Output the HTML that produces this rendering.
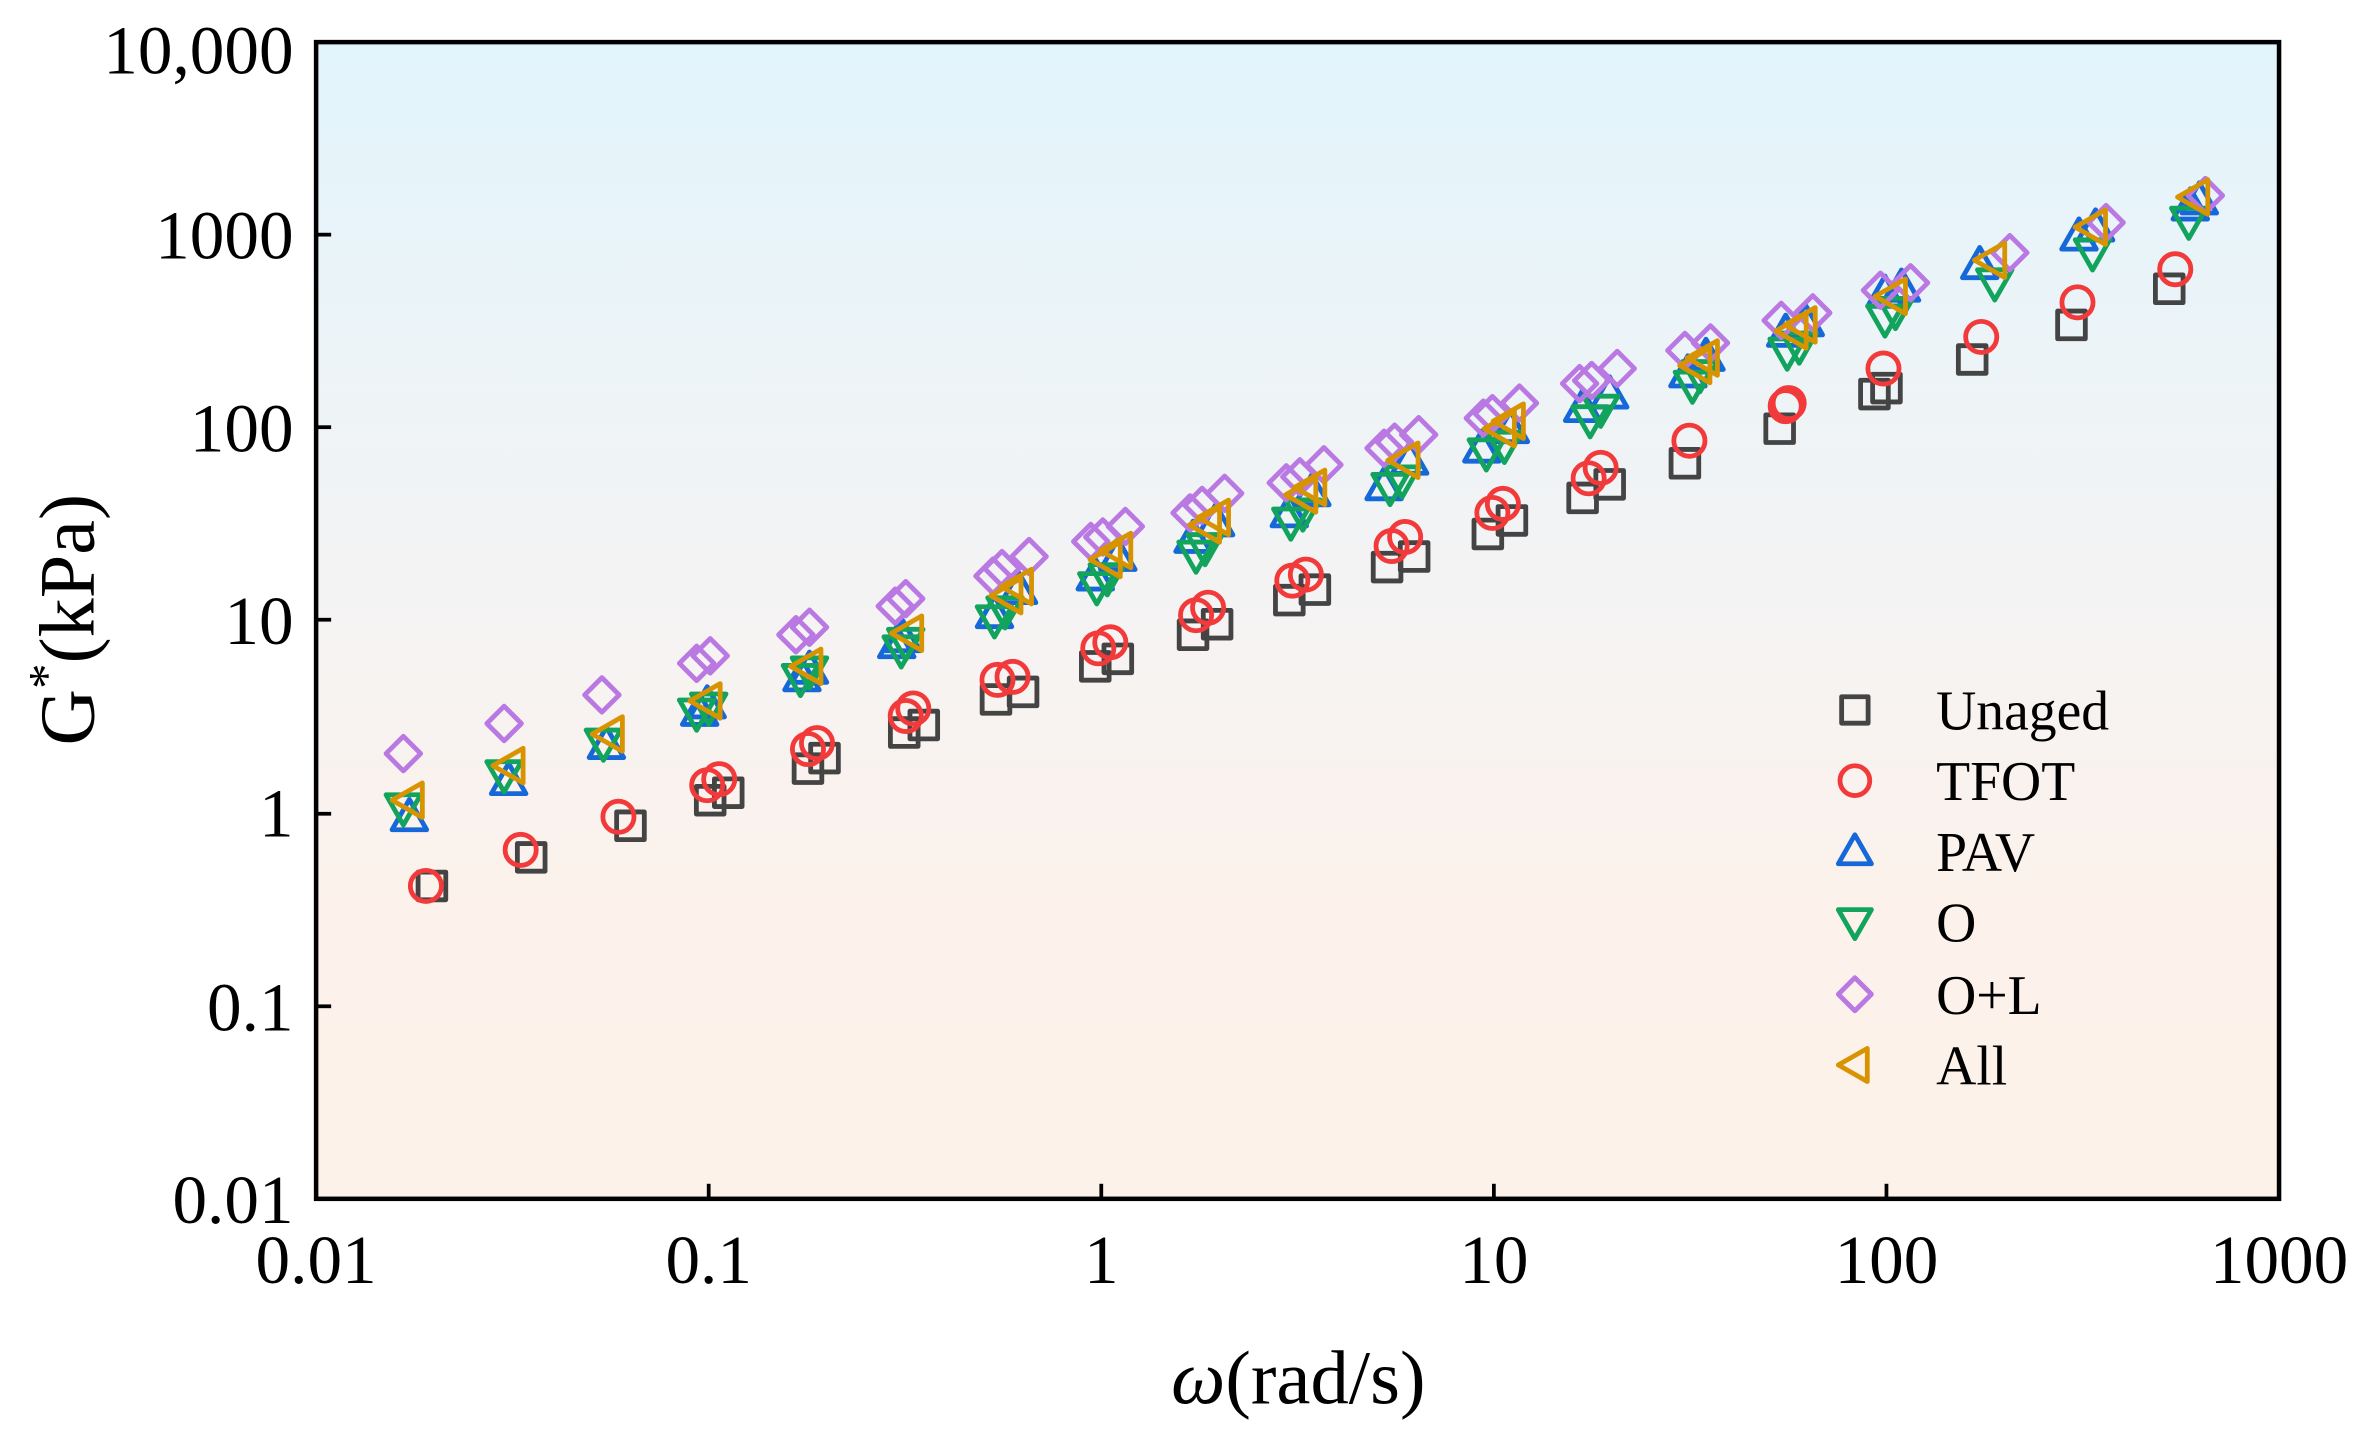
<!DOCTYPE html>
<html><head><meta charset="utf-8"><style>
html,body{margin:0;padding:0;background:#fff;}
svg{display:block;}
text{font-family:"Liberation Serif",serif;fill:#000;}
</style></head><body>
<svg id="s" width="2359" height="1441" viewBox="0 0 1568 958" xmlns="http://www.w3.org/2000/svg">
<defs><linearGradient id="bg" x1="0" y1="0" x2="0" y2="1">
<stop offset="0" stop-color="#e2f4fc"/><stop offset="0.5" stop-color="#f5f3f3"/><stop offset="0.75" stop-color="#fcf2eb"/><stop offset="1" stop-color="#fdf2ea"/></linearGradient></defs>
<rect x="210" y="28" width="1305" height="769" fill="url(#bg)"/>
<g id="pts"></g>
<rect x="210" y="28" width="1305" height="769" fill="none" stroke="#000" stroke-width="3"/>
<g stroke="#000" stroke-width="2.5">
<line x1="210" y1="156" x2="220" y2="156"/><line x1="210" y1="284" x2="220" y2="284"/><line x1="210" y1="412" x2="220" y2="412"/><line x1="210" y1="541" x2="220" y2="541"/><line x1="210" y1="669" x2="220" y2="669"/>
<line x1="471" y1="797" x2="471" y2="787"/><line x1="732" y1="797" x2="732" y2="787"/><line x1="993" y1="797" x2="993" y2="787"/><line x1="1254" y1="797" x2="1254" y2="787"/>
</g>
<g font-size="46" text-anchor="end">
<text x="195" y="49">10,000</text><text x="195" y="172">1000</text><text x="195" y="300">100</text><text x="195" y="428">10</text><text x="195" y="556">1</text><text x="195" y="685">0.1</text><text x="195" y="813">0.01</text>
</g>
<g font-size="46" text-anchor="middle">
<text x="210" y="853">0.01</text><text x="471" y="853">0.1</text><text x="732" y="853">1</text><text x="993" y="853">10</text><text x="1254" y="853">100</text><text x="1515" y="853">1000</text>
</g>
<text x="863" y="933" font-size="51" text-anchor="middle"><tspan font-style="italic">ω</tspan>(rad/s)</text>
<text transform="translate(62,412) rotate(-90)" font-size="52" text-anchor="middle">G<tspan dy="-20" font-size="34">*</tspan><tspan dy="20">(kPa)</tspan></text>
<g font-size="37">
<text x="1287" y="485">Unaged</text><text x="1287" y="532">TFOT</text><text x="1287" y="579">PAV</text><text x="1287" y="626">O</text><text x="1287" y="674">O+L</text><text x="1287" y="721">All</text>
</g>
<g id="leg"></g>
</svg>
<script>
var C={sq:"#444",ci:"#f23a3a",up:"#1668d8",dn:"#12a35c",di:"#b978e2",lt:"#d89400"};
function mk(t,x,y,r){var c=C[t],s;
if(t=="sq")s='<rect x="'+(x-r*0.8)+'" y="'+(y-r*0.8)+'" width="'+(r*1.6)+'" height="'+(r*1.6)+'"';
else if(t=="ci")s='<circle cx="'+x+'" cy="'+y+'" r="'+(r*0.9)+'"';
else{var p;if(t=="up")p=[[x,y-r],[x+r,y+r*0.75],[x-r,y+r*0.75]];
else if(t=="dn")p=[[x,y+r],[x+r,y-r*0.75],[x-r,y-r*0.75]];
else if(t=="di")p=[[x,y-r],[x+r,y],[x,y+r],[x-r,y]];
else p=[[x-r,y],[x+r*0.75,y-r],[x+r*0.75,y+r]];
s='<polygon points="'+p.map(function(a){return a.join(",")}).join(" ")+'"';}
return s+' fill="none" stroke="'+c+'" stroke-width="3.2" stroke-linejoin="round"/>';}
var D={
sq:[[287,589],[353,570],[419,549],[472,532],[484,527],[537,511],[548,504],[601,487],[614,482],[662,465],[680,460],[728,443],[743,438],[793,422],[809,415],[857,399],[874,392],[922,377],[940,370],[989,355],[1005,346],[1052,331],[1070,322],[1120,308],[1183,285],[1246,262],[1254,258],[1311,239],[1377,216],[1442,192]],
ci:[[283,589],[346,565],[411,543],[470,522],[478,518],[537,498],[543,494],[602,476],[607,471],[663,452],[673,450],[730,431],[738,427],[795,409],[803,404],[859,386],[868,382],[925,363],[934,357],[992,341],[999,335],[1056,318],[1064,311],[1123,293],[1187,270],[1189,268],[1252,245],[1317,224],[1381,201],[1446,179]],
up:[[272,543],[338,519],[403,495],[465,473],[470,468],[533,450],[538,445],[596,428],[600,424],[661,408],[677,392],[728,383],[743,370],[793,358],[808,347],[857,341],[872,327],[920,323],[937,306],[985,298],[1004,285],[1052,271],[1070,262],[1122,248],[1134,237],[1187,221],[1200,214],[1253,195],[1264,191],[1316,176],[1382,157],[1393,151],[1456,137],[1462,133]],
dn:[[268,537],[335,515],[401,494],[463,474],[471,470],[532,451],[538,446],[599,432],[602,427],[661,412],[668,406],[729,390],[736,384],[795,369],[801,364],[858,347],[866,341],[924,324],[932,319],[988,301],[1000,296],[1057,279],[1064,272],[1125,256],[1130,249],[1188,234],[1196,230],[1253,212],[1260,207],[1326,188],[1391,168],[1455,147]],
di:[[268,501],[335,481],[400,462],[463,441],[472,436],[529,422],[538,417],[595,403],[602,398],[660,383],[666,378],[684,370],[725,360],[733,357],[748,350],[791,341],[799,336],[814,328],[855,321],[864,317],[880,309],[920,298],[927,294],[943,289],[986,278],[992,275],[1010,268],[1050,255],[1058,253],[1075,245],[1120,233],[1137,228],[1184,213],[1205,208],[1250,193],[1270,188],[1336,168],[1400,148],[1466,130]],
lt:[[272,532],[339,509],[405,488],[470,466],[537,443],[604,421],[670,396],[677,390],[736,372],[743,366],[802,349],[808,344],[866,329],[872,324],[934,306],[998,285],[1004,280],[1128,243],[1133,238],[1192,220],[1198,216],[1258,197],[1324,173],[1391,151],[1459,131]]};
var h="";["sq","ci","up","dn","di","lt"].forEach(function(t){D[t].forEach(function(p){h+=mk(t,p[0],p[1],11.5);});});
document.getElementById("pts").innerHTML=h;
var l="",ys=[472,519,566,613,661,708];["sq","ci","up","dn","di","lt"].forEach(function(t,i){l+=mk(t,1233,ys[i],11);});
document.getElementById("leg").innerHTML=l;
</script>
</body></html>
